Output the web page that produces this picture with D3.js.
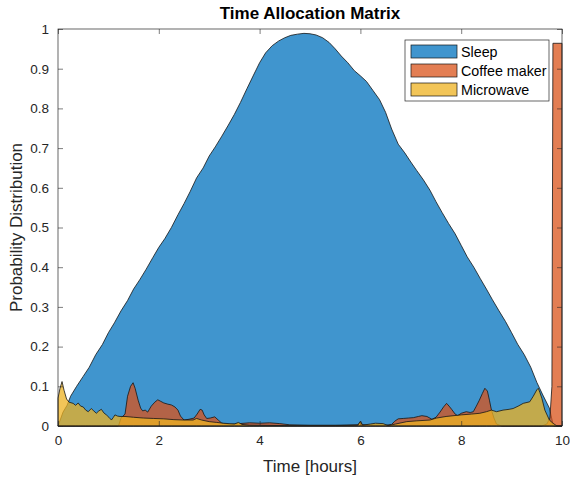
<!DOCTYPE html>
<html>
<head>
<meta charset="utf-8">
<script src="https://cdn.jsdelivr.net/npm/d3@7"></script>
<style>
  body { margin: 0; background: #fff; }
  svg { font-family: "Liberation Sans", Arial, sans-serif; }
</style>
</head>
<body>
<div id="chart"></div>
<script>
// series names + colours (MATLAB default order)
var seriesNames = ["Sleep", "Coffee maker", "Microwave"];
var seriesColors = ["#0072BD", "#D95319", "#EDB120"];

var sleepHours = [0, 0.1, 0.18, 0.25, 0.37, 0.5, 0.62, 0.75, 0.88, 1, 1.12, 1.25, 1.38, 1.5, 1.62, 1.75, 1.88, 2, 2.12, 2.25, 2.38, 2.5,
    2.62, 2.75, 2.88, 3, 3.12, 3.25, 3.38, 3.5, 3.62, 3.75, 3.88, 4, 4.12, 4.25, 4.38, 4.5, 4.62, 4.75, 4.88, 5,
    5.12, 5.25, 5.38, 5.5, 5.62, 5.75, 5.88, 6, 6.12, 6.25, 6.38, 6.5, 6.62, 6.75, 6.88, 7, 7.12, 7.25, 7.38, 7.5,
    7.62, 7.75, 7.88, 8, 8.12, 8.25, 8.38, 8.5, 8.62, 8.75, 8.88, 9, 9.12, 9.25, 9.38, 9.5, 9.62, 9.75, 9.83, 10];
var sleepValues = [0, 0.035, 0.052, 0.075, 0.1, 0.125, 0.148, 0.18, 0.205, 0.235, 0.26, 0.29, 0.316, 0.345, 0.368, 0.395, 0.424, 0.45, 0.472, 0.5, 0.532, 0.56,
    0.59, 0.625, 0.65, 0.68, 0.703, 0.73, 0.758, 0.785, 0.815, 0.85, 0.884, 0.915, 0.94, 0.958, 0.97, 0.978, 0.984, 0.987, 0.989, 0.988,
    0.985, 0.978, 0.966, 0.95, 0.932, 0.915, 0.895, 0.882, 0.868, 0.845, 0.822, 0.79, 0.748, 0.71, 0.688, 0.665, 0.643, 0.62, 0.594, 0.565,
    0.538, 0.51, 0.484, 0.455, 0.426, 0.4, 0.371, 0.345, 0.318, 0.29, 0.263, 0.235, 0.206, 0.18, 0.148, 0.11, 0.078, 0.045, 0, 0];

var coffeeHours = [0, 1.2, 1.25, 1.33, 1.38, 1.44, 1.49, 1.53, 1.59, 1.64, 1.68, 1.73, 1.78, 1.85, 1.92, 1.98, 2.04, 2.1, 2.18, 2.25, 2.32, 2.38, 2.43,
    2.5, 2.6, 2.7, 2.76, 2.82, 2.86, 2.9, 2.95, 3.02, 3.11, 3.18, 3.25, 3.4, 3.6, 3.8, 4, 4.2, 4.4, 4.6, 5, 5.5, 5.95, 6, 6.05, 6.5, 6.62,
    6.68, 6.75, 6.85, 6.95, 7.05, 7.15, 7.22, 7.32, 7.42, 7.5, 7.58, 7.65, 7.71, 7.76, 7.81, 7.88, 7.93, 8, 8.1, 8.18, 8.24, 8.3, 8.36,
    8.42, 8.47, 8.52, 8.56, 8.6, 8.65, 8.7, 8.8, 9.6, 9.7, 9.76, 9.8, 9.82, 10];
var coffeeValues = [0, 0, 0.02, 0.03, 0.075, 0.1, 0.109, 0.095, 0.065, 0.045, 0.038, 0.04, 0.035, 0.05, 0.06, 0.066, 0.062, 0.058, 0.055, 0.053, 0.048, 0.04, 0.025,
    0.015, 0.017, 0.02, 0.03, 0.042, 0.04, 0.028, 0.019, 0.02, 0.023, 0.015, 0.007, 0.004, 0.006, 0.008, 0.007, 0.008, 0.006, 0.003, 0.002, 0.002, 0.003, 0.01, 0.003, 0.002, 0.004,
    0.012, 0.018, 0.019, 0.02, 0.021, 0.024, 0.026, 0.024, 0.017, 0.022, 0.035, 0.048, 0.057, 0.05, 0.042, 0.03, 0.026, 0.032, 0.036, 0.034, 0.036, 0.05, 0.065,
    0.082, 0.095, 0.088, 0.065, 0.04, 0.02, 0.005, 0, 0, 0.005, 0.02, 0.1, 0.964, 0.964];

var microwaveHours = [0, 0.04, 0.08, 0.12, 0.17, 0.22, 0.3, 0.35, 0.4, 0.45, 0.5, 0.55, 0.6, 0.66, 0.71, 0.76, 0.81, 0.86, 0.91, 0.96, 1.01, 1.06, 1.1, 1.13,
    1.18, 1.23, 1.33, 1.5, 1.7, 1.9, 2.1, 2.3, 2.5, 2.68, 2.75, 2.85, 3, 3.15, 3.28, 3.5, 3.58, 3.65, 3.8, 4.5, 5.5, 5.95, 6, 6.04, 6.2, 6.3, 6.45,
    6.55, 6.7, 6.92, 7.12, 7.38, 7.51, 7.7, 8, 8.2, 8.37, 8.5, 8.6, 8.7, 8.83, 8.95, 9.03, 9.13, 9.23, 9.36, 9.43, 9.5, 9.53, 9.56, 9.6, 9.66,
    9.75, 9.82, 9.9, 10];
var microwaveValues = [0.07, 0.095, 0.112, 0.09, 0.068, 0.06, 0.057, 0.052, 0.058, 0.05, 0.048, 0.04, 0.036, 0.044, 0.038, 0.032, 0.038, 0.042, 0.033, 0.028, 0.022, 0.015, 0.022, 0.028,
    0.025, 0.024, 0.024, 0.022, 0.02, 0.019, 0.018, 0.016, 0.015, 0.015, 0.019, 0.015, 0.011, 0.009, 0.007, 0.005, 0.009, 0.004, 0.002, 0.001, 0.001, 0.002, 0.012, 0.002, 0.005, 0.007, 0.006,
    0.001, 0.005, 0.011, 0.013, 0.015, 0.02, 0.024, 0.028, 0.03, 0.032, 0.036, 0.04, 0.036, 0.04, 0.042, 0.044, 0.05, 0.057, 0.061, 0.075, 0.091, 0.095, 0.085, 0.07, 0.04,
    0.015, 0.007, 0, 0];

var xTicks = [0, 2, 4, 6, 8, 10];
var yTicks = [0, 0.1, 0.2, 0.3, 0.4, 0.5, 0.6, 0.7, 0.8, 0.9, 1];

var W = 570, H = 477;
var margin = { top: 29, right: 8, bottom: 51, left: 58 },
    width = W - margin.left - margin.right,
    height = H - margin.top - margin.bottom;

var svg = d3.select("#chart").append("svg")
    .attr("width", W)
    .attr("height", H);

var x = d3.scaleLinear().domain([0, 10]).range([0, width]),
    y = d3.scaleLinear().domain([0, 1]).range([height, 0]);

var g = svg.append("g")
    .attr("transform", "translate(" + margin.left + "," + margin.top + ")");

var area = d3.area()
    .x(function(d) { return x(d[0]); })
    .y0(y(0))
    .y1(function(d) { return y(d[1]); });

var series = [
    d3.zip(sleepHours, sleepValues),
    d3.zip(coffeeHours, coffeeValues),
    d3.zip(microwaveHours, microwaveValues)
];

series.forEach(function(s, i) {
    g.append("path")
        .datum(s)
        .attr("d", area)
        .attr("fill", seriesColors[i])
        .attr("fill-opacity", 0.75)
        .attr("stroke", "#151515")
        .attr("stroke-width", 0.8)
        .attr("stroke-linejoin", "round");
});

// axes, ticks pointing inward on all four sides
var axisColor = "#262626";

var xAxis = d3.axisBottom(x).tickValues(xTicks).tickSize(-5).tickPadding(9).tickFormat(d3.format("d"));
var yAxis = d3.axisLeft(y).tickValues(yTicks).tickSize(-5).tickPadding(9).tickFormat(function(d) { return d === 0 || d === 1 ? d : d3.format(".1f")(d); });

var gx = g.append("g").attr("transform", "translate(0," + height + ")").call(xAxis);
var gy = g.append("g").call(yAxis);
var gxTop = g.append("g").call(d3.axisTop(x).tickValues(xTicks).tickSize(-5).tickFormat(""));
var gyRight = g.append("g").attr("transform", "translate(" + width + ",0)").call(d3.axisRight(y).tickValues(yTicks).tickSize(-5).tickFormat(""));

[gx, gy, gxTop, gyRight].forEach(function(a) {
    a.select(".domain").remove();
    a.selectAll("line").attr("stroke", axisColor).attr("stroke-width", 0.6);
    a.selectAll("text").attr("fill", axisColor).style("font-size", "13.5px").style("font-family", "Liberation Sans, Arial, sans-serif");
});

g.append("rect")
    .attr("width", width)
    .attr("height", height)
    .attr("fill", "none")
    .attr("stroke", axisColor)
    .attr("stroke-width", 0.7);

// title + labels
svg.append("text")
    .attr("x", margin.left + width / 2)
    .attr("y", 19)
    .attr("text-anchor", "middle")
    .attr("fill", "#000")
    .style("font-size", "17px")
    .style("font-weight", "bold")
    .text("Time Allocation Matrix");

svg.append("text")
    .attr("x", margin.left + width / 2)
    .attr("y", 472)
    .attr("text-anchor", "middle")
    .attr("fill", axisColor)
    .style("font-size", "17px")
    .text("Time [hours]");

svg.append("text")
    .attr("transform", "translate(22," + (margin.top + height / 2) + ") rotate(-90)")
    .attr("text-anchor", "middle")
    .attr("fill", axisColor)
    .style("font-size", "17px")
    .text("Probability Distribution");

// legend
var legend = svg.append("g").attr("transform", "translate(405,40)");

legend.append("rect")
    .attr("width", 144)
    .attr("height", 61)
    .attr("fill", "#fff")
    .attr("stroke", axisColor)
    .attr("stroke-width", 0.7);

seriesNames.forEach(function(name, i) {
    var row = legend.append("g").attr("transform", "translate(0," + (5 + i * 19) + ")");
    row.append("rect")
        .attr("x", 6)
        .attr("width", 46)
        .attr("height", 13)
        .attr("fill", seriesColors[i])
        .attr("fill-opacity", 0.75)
        .attr("stroke", "#151515")
        .attr("stroke-width", 0.7);
    row.append("text")
        .attr("x", 56)
        .attr("y", 11.5)
        .attr("fill", "#000")
        .style("font-size", "14.3px")
        .text(name);
});
</script>
</body>
</html>
